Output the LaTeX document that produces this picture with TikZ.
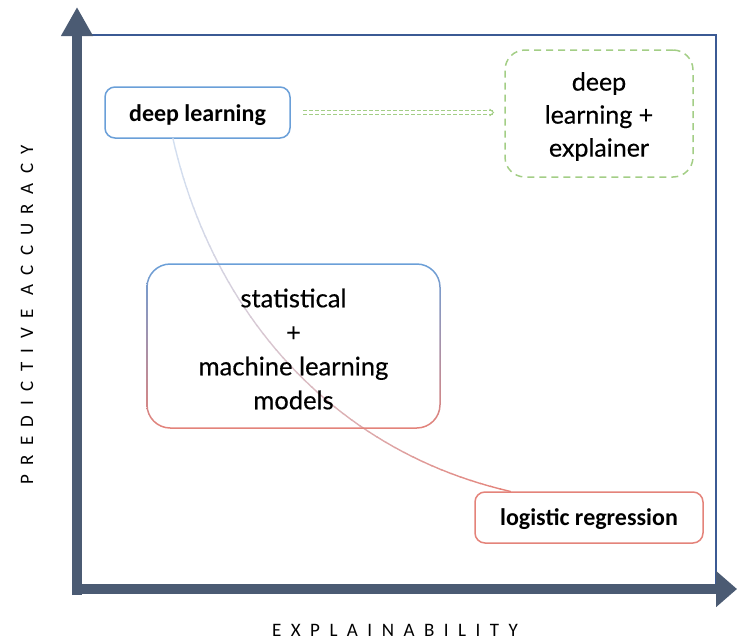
\documentclass[tikz,border=0pt]{standalone}
\usepackage{fontspec}
\setmainfont{Carlito}
\newfontfamily\carl{Carlito}
\newfontfamily\geo[FakeBold=0.4]{Lato}
\newfontfamily\spaced[LetterSpace=50]{Carlito}
\usetikzlibrary{arrows.meta,decorations.markings,calc}
\definecolor{axisc}{HTML}{4B5B73}
\definecolor{framec}{HTML}{3B5A94}
\definecolor{bluec}{HTML}{6A9FD8}
\definecolor{redc}{HTML}{E4837A}
\definecolor{greenc}{HTML}{A3CE86}
\definecolor{curveB}{HTML}{D3DFF0}
\newcommand{\lowertext}[2]{\raisebox{-#1}[\height][\depth]{#2}}
\tikzset{
  boxbase/.style={rounded corners=10pt, line width=1.5pt, align=center, inner sep=0pt},
  blbox/.style={boxbase, draw=bluec, font=\carl\bfseries\fontsize{24}{28}\selectfont},
  rdbox/.style={boxbase, draw=redc, font=\carl\bfseries\fontsize{24}{28}\selectfont},
  gnbox/.style={boxbase, rounded corners=20pt, draw=greenc, dashed, dash pattern=on 7pt off 5pt, font=\geo\fontsize{25}{33}\selectfont},
  stbox/.style={boxbase, rounded corners=24pt, font=\geo\fontsize{25.5}{34}\selectfont},
  axisline/.style={draw=axisc, line width=10pt},
  axlabel/.style={font=\spaced\fontsize{19}{22}\selectfont, text=black}
}
\begin{document}
\begin{tikzpicture}[x=1pt,y=-1pt]
\useasboundingbox (0,0) rectangle (737,640);
% frame
\draw[framec, line width=1.5pt] (77,35) rectangle (716,588);
% axes
\coordinate (O) at (77,589);
\coordinate (ytip) at (77,7);
\coordinate (xstart) at (72,589);
\coordinate (xtip) at (737,589);
\draw[axisline, -{Triangle[length=29pt,width=30pt]}, axisc] (77,595) -- (ytip);
\draw[axisline, -{Triangle[length=21pt,width=35pt]}, axisc] (xstart) -- (xtip);
% labels
\node[axlabel, rotate=90] (ylab) at (27,315) {PREDICTIVE ACCURACY};
\node[axlabel] (xlab) at (395,630) {EXPLAINABILITY};
% nodes
\node[blbox, minimum width=185pt, minimum height=51pt] (dl) at (197.5,112.5) {\lowertext{2.5pt}{deep learning}};
\node[gnbox, minimum width=188pt, minimum height=127pt] (ex) at (599,113.5) {\lowertext{3.5pt}{\begin{tabular}{@{}c@{}}deep\\learning +\\explainer\end{tabular}}};
\node[rdbox, minimum width=228pt, minimum height=51pt] (lr) at (589,517.5) {\lowertext{2pt}{logistic regression}};
\node[stbox, minimum width=293pt, minimum height=164pt] (st) at (293.5,346) {};
% curve with gradient colour
\path[postaction={decorate}, decoration={markings,
  mark=between positions 0 and 0.99 step 0.02 with {
    \pgfmathsetmacro\pc{min(100,100*(\pgfkeysvalueof{/pgf/decoration/mark info/sequence number}/50)^1.6)}
    \draw[line width=1.4pt, color=redc!\pc!curveB] (-0.5pt,0pt) -- ({\pgfdecoratedpathlength/50+0.5pt},0pt);
  }}]
  ([xshift=-24.5pt]dl.south) .. controls (212,310) and (330,450) .. ([xshift=-79pt]lr.north);
% gradient border of statistical box
\shade[even odd rule, top color=bluec, bottom color=redc]
  [rounded corners=24pt] (st.north west) rectangle (st.south east)
  [rounded corners=22.5pt] ($(st.north west)+(1.5,1.5)$) rectangle ($(st.south east)+(-1.5,-1.5)$);
\node[stbox] (sttext) at ([yshift=-3pt]st.center) {statistical\\+\\machine learning\\models};
% dashed double arrow
\draw[greenc, dashed, dash pattern=on 4pt off 2pt, double=white, double distance=2.5pt, line width=0.9pt,
  shorten <=12pt, shorten >=10pt, -{Straight Barb[length=4pt,width=7pt]}] (dl.east) -- (dl.east -| ex.west);
\end{tikzpicture}
\end{document}
